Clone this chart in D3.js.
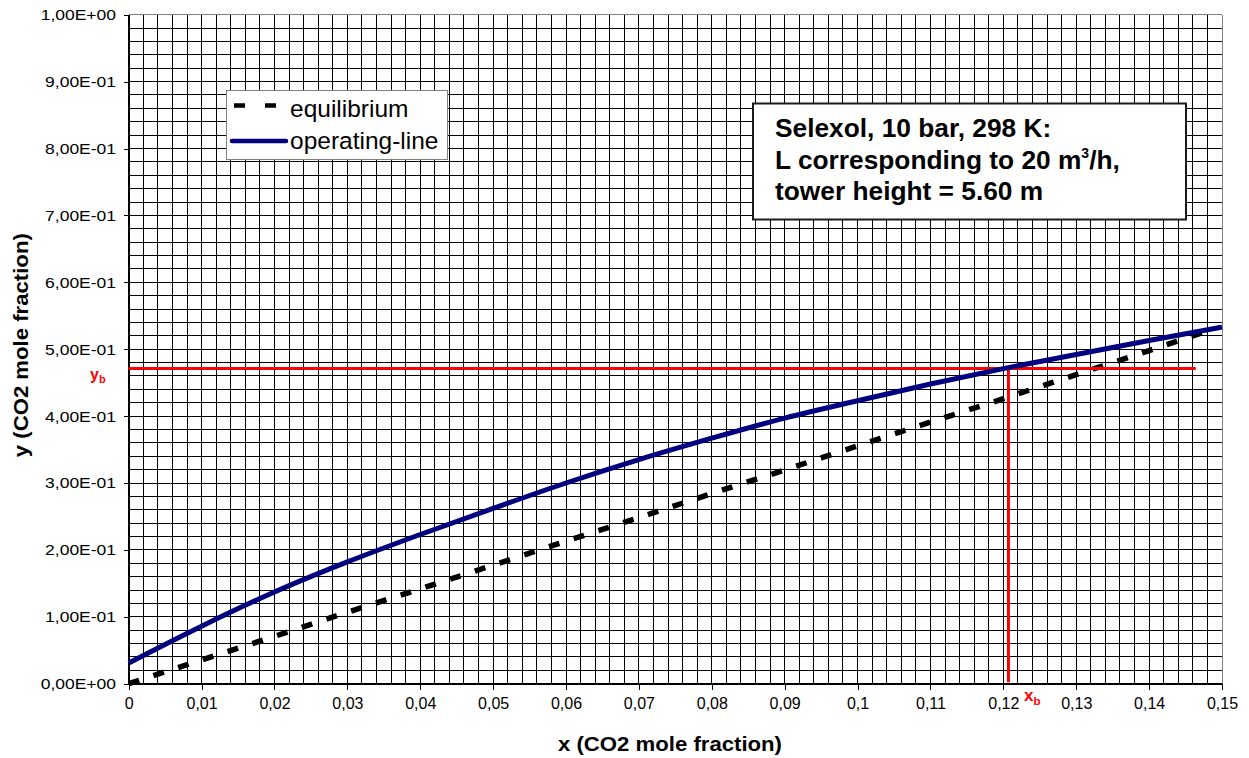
<!DOCTYPE html>
<html>
<head>
<meta charset="utf-8">
<script src="https://cdn.jsdelivr.net/npm/d3@7"></script>
<style>
  html, body { margin: 0; padding: 0; background: #fff; }
  svg { display: block; font-family: "Liberation Sans", Arial, sans-serif; }
</style>
</head>
<body>
<svg id="chart" width="1249" height="758"></svg>
<script>
// Liquid-phase CO2 mole fraction grid (x) for the two curves
const xOperating = [0, 0.01, 0.02, 0.03, 0.04, 0.05, 0.06, 0.07, 0.08, 0.09, 0.10, 0.11, 0.12, 0.13, 0.14, 0.15];
// Operating line: gas-phase CO2 mole fraction
const yOperating = [0.031, 0.086, 0.137, 0.182, 0.223, 0.262, 0.300, 0.335, 0.367, 0.397, 0.423, 0.448, 0.471, 0.492, 0.513, 0.533];

const xEquilibrium = [0, 0.01, 0.02, 0.03, 0.04, 0.05, 0.06, 0.07, 0.08, 0.09, 0.10, 0.11, 0.12, 0.13, 0.14, 0.148];
// Equilibrium curve: gas-phase CO2 mole fraction
const yEquilibrium = [0, 0.0355, 0.0708, 0.1068, 0.1418, 0.1772, 0.2131, 0.2483, 0.2843, 0.3195, 0.3555, 0.391, 0.426, 0.462, 0.498, 0.527];

// Bottom-of-tower point (xb, yb) and the extent of the yb guide line
const bottomPoint = { xb: 0.1207, yb: 0.471 };
const ybLineEnd = 0.1464;

// Axis ticks and their labels
const xTicks = [0, 0.01, 0.02, 0.03, 0.04, 0.05, 0.06, 0.07, 0.08, 0.09, 0.10, 0.11, 0.12, 0.13, 0.14, 0.15];
const xTickLabels = ["0", "0,01", "0,02", "0,03", "0,04", "0,05", "0,06", "0,07", "0,08", "0,09", "0,1", "0,11", "0,12", "0,13", "0,14", "0,15"];
const yTicks = [0, 0.1, 0.2, 0.3, 0.4, 0.5, 0.6, 0.7, 0.8, 0.9, 1.0];
const yTickLabels = ["0,00E+00", "1,00E-01", "2,00E-01", "3,00E-01", "4,00E-01", "5,00E-01", "6,00E-01", "7,00E-01", "8,00E-01", "9,00E-01", "1,00E+00"];

const legendLabels = ["equilibrium", "operating-line"];
const noteLines = ["Selexol, 10 bar, 298 K:", "L corresponding to 20 m", "tower height = 5.60 m"];

const svg = d3.select("#chart");
const plot = { left: 128.7, right: 1222, top: 14.7, bottom: 683.7 };

const x = d3.scaleLinear().domain([0, 0.15]).range([plot.left, plot.right]);
const y = d3.scaleLinear().domain([0, 1]).range([plot.bottom, plot.top]);

// Fine grid: every 0.002 in x, every 0.02 in y
const gridX = d3.range(0, 75 + 1).map(i => i * 0.002);
const gridY = d3.range(0, 50 + 1).map(i => i * 0.02);

const grid = svg.append("g").attr("shape-rendering", "crispEdges");
grid.selectAll("line.gx").data(gridX).join("line")
  .attr("class", "gx")
  .attr("x1", d => x(d)).attr("x2", d => x(d))
  .attr("y1", plot.top).attr("y2", plot.bottom)
  .attr("stroke", (d, i) => i === gridX.length - 1 ? "#808080" : "#000").attr("stroke-width", 1);
grid.selectAll("line.gy").data(gridY).join("line")
  .attr("class", "gy")
  .attr("x1", plot.left).attr("x2", plot.right)
  .attr("y1", d => y(d)).attr("y2", d => y(d))
  .attr("stroke", (d, i) => i === gridY.length - 1 ? "#808080" : "#000").attr("stroke-width", 1);

// Axes
const xAxis = d3.axisBottom(x).tickValues(xTicks).tickSize(6).tickPadding(8)
  .tickFormat((d, i) => xTickLabels[i]);
const yAxis = d3.axisLeft(y).tickValues(yTicks).tickSize(5).tickPadding(7)
  .tickFormat((d, i) => yTickLabels[i]);

const gx = svg.append("g").attr("transform", `translate(0,${plot.bottom})`).call(xAxis);
const gy = svg.append("g").attr("transform", `translate(${plot.left},0)`).call(yAxis);
[gx, gy].forEach(g => {
  g.attr("font-family", null).attr("font-size", null);
  g.select(".domain").attr("stroke", "#000").attr("shape-rendering", "crispEdges");
  g.selectAll(".tick line").attr("stroke", "#000").attr("shape-rendering", "crispEdges");
  g.selectAll(".tick text").attr("fill", "#000");
});
gx.selectAll(".tick text").style("font-size", "16px");
// Tick labels on the value axis are set slightly wide
gy.selectAll(".tick text").style("font-size", "15.5px")
  .attr("x", -11.2).attr("transform", "scale(1.13,1)");

// Axis titles
svg.append("text")
  .attr("x", 670).attr("y", 751)
  .attr("text-anchor", "middle").style("font-size", "21px").attr("font-weight", "bold")
  .attr("textLength", 224).attr("lengthAdjust", "spacingAndGlyphs")
  .text("x (CO2 mole fraction)");
svg.append("text")
  .attr("transform", `translate(28,${(plot.top + plot.bottom) / 2 - 4}) rotate(-90)`)
  .attr("text-anchor", "middle").style("font-size", "21px").attr("font-weight", "bold")
  .attr("textLength", 224).attr("lengthAdjust", "spacingAndGlyphs")
  .text("y (CO2 mole fraction)");

// Equilibrium curve (dashed)
const eqData = xEquilibrium.map((d, i) => [d, yEquilibrium[i]]);
const opData = xOperating.map((d, i) => [d, yOperating[i]]);
const line = d3.line().x(d => x(d[0])).y(d => y(d[1])).curve(d3.curveMonotoneX);

svg.append("path").datum(eqData)
  .attr("d", line).attr("fill", "none")
  .attr("stroke", "#000").attr("stroke-width", 5.5)
  .attr("stroke-dasharray", "11,15");

// Guide lines through the bottom-of-tower point
svg.append("line")
  .attr("x1", x(0)).attr("x2", x(ybLineEnd))
  .attr("y1", y(bottomPoint.yb)).attr("y2", y(bottomPoint.yb))
  .attr("stroke", "#ff0000").attr("stroke-width", 3);
svg.append("line")
  .attr("x1", x(bottomPoint.xb)).attr("x2", x(bottomPoint.xb))
  .attr("y1", y(bottomPoint.yb)).attr("y2", y(0) - 1.5)
  .attr("stroke", "#ff0000").attr("stroke-width", 3);

// Operating line
svg.append("path").datum(opData)
  .attr("d", line).attr("fill", "none")
  .attr("stroke", "#000080").attr("stroke-width", 5);

// xb / yb labels
const yb = svg.append("text")
  .attr("x", 90).attr("y", 379.5)
  .attr("fill", "#ff0000").style("font-size", "16px").attr("font-weight", "bold");
yb.append("tspan").text("y");
yb.append("tspan").style("font-size", "11px").attr("dy", 3.5).text("b");

const xb = svg.append("text")
  .attr("x", 1024).attr("y", 701)
  .attr("fill", "#ff0000").style("font-size", "17px").attr("font-weight", "bold");
xb.append("tspan").text("x");
xb.append("tspan").style("font-size", "11.5px").attr("dy", 4).text("b");

// Legend
const legend = svg.append("g");
legend.append("rect")
  .attr("x", 226.5).attr("y", 90).attr("width", 221).attr("height", 69)
  .attr("fill", "#fff").attr("stroke", "#808080").attr("stroke-width", 1)
  .attr("shape-rendering", "crispEdges");
legend.append("line")
  .attr("x1", 234).attr("x2", 286).attr("y1", 105.5).attr("y2", 105.5)
  .attr("stroke", "#000").attr("stroke-width", 4.5).attr("stroke-dasharray", "11,20");
legend.append("line")
  .attr("x1", 232).attr("x2", 286).attr("y1", 141).attr("y2", 141)
  .attr("stroke", "#000080").attr("stroke-width", 4.5).attr("stroke-linecap", "round");
legend.selectAll("text").data(legendLabels).join("text")
  .attr("x", 290).attr("y", (d, i) => 116.5 + i * 32)
  .style("font-size", "24.5px").attr("fill", "#000")
  .text(d => d);

// Annotation box
const note = svg.append("g");
note.append("rect")
  .attr("x", 753).attr("y", 103.5).attr("width", 433).attr("height", 116)
  .attr("fill", "#fff").attr("stroke", "#1a1a1a").attr("stroke-width", 2);
const noteText = note.append("g")
  .style("font-size", "26.3px").attr("font-weight", "bold").attr("fill", "#000");
noteText.append("text").attr("x", 775).attr("y", 137).text(noteLines[0]);
const l2 = noteText.append("text").attr("x", 775).attr("y", 169);
l2.append("tspan").text(noteLines[1]);
l2.append("tspan").style("font-size", "14px").attr("dy", -11).text("3");
l2.append("tspan").attr("dy", 11).text("/h,");
noteText.append("text").attr("x", 775).attr("y", 200).text(noteLines[2]);
</script>
</body>
</html>
